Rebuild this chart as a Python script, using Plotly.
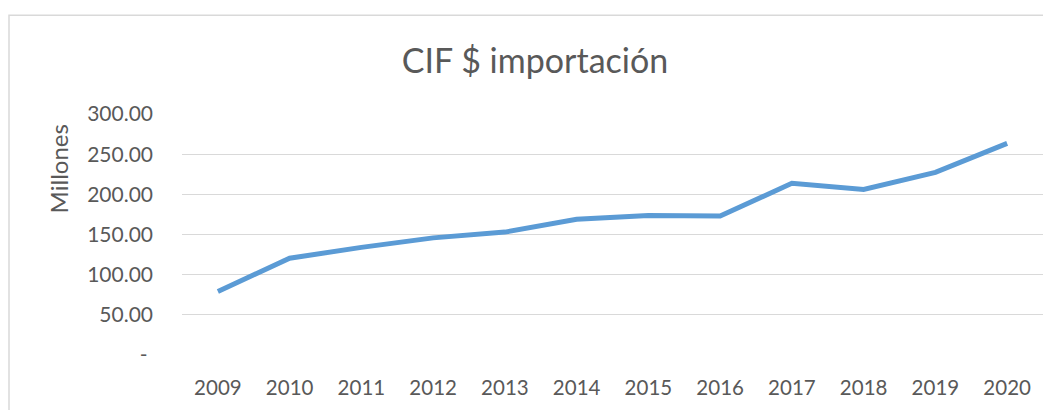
import plotly.graph_objects as go

years = ["2009", "2010", "2011", "2012", "2013", "2014", "2015", "2016", "2017", "2018", "2019", "2020"]
cif_millones = [79.0, 120.5, 134.0, 145.8, 153.0, 169.0, 173.8, 173.0, 213.8, 206.0, 227.4, 263.4]
y_tickvals = [0, 50, 100, 150, 200, 250, 300]
y_ticktext = [" - ", "50.00", "100.00", "150.00", "200.00", "250.00", "300.00"]

OFF = 8  # page body margin offset
W, H = 1051 - OFF, 410 - OFF
L, R, T, B = 182 - OFF, 16 - OFF, 113.5 - OFF, 55
pw, ph = W - L - R, H - T - B

font_family = "Lato, 'Open Sans', sans-serif"
txt = "#595959"

fig = go.Figure()
fig.add_trace(go.Scatter(
    x=years, y=cif_millones, mode="lines",
    line=dict(color="#5B9BD5", width=5),
    hoverinfo="x+y", showlegend=False,
))

fig.update_layout(
    width=W, height=H,
    margin=dict(l=L, r=R, t=T, b=B, autoexpand=False),
    paper_bgcolor="white", plot_bgcolor="white",
    font=dict(family=font_family, color=txt),
    title=dict(text="CIF $ importación", x=(535 - OFF) / W, xanchor="center",
               y=1 - (61 - OFF) / H, yanchor="middle",
               font=dict(size=34, color=txt, family=font_family)),
    xaxis=dict(type="category", range=[-0.5, 11.5], showgrid=False,
               showline=False, zeroline=False, ticks="",
               tickfont=dict(size=20.5, color=txt), ticklabelstandoff=18),
    yaxis=dict(range=[0, 300], tickvals=y_tickvals, ticktext=y_ticktext,
               showgrid=True, gridcolor="#D9D9D9", gridwidth=1.3,
               zeroline=False, showline=False, ticks="",
               tickfont=dict(size=21, color=txt), ticklabelstandoff=28),
)

fig.add_annotation(text="Millones", textangle=-90, xref="paper", yref="paper",
                   x=(58 - 182) / pw, y=(355 - 168) / ph, xanchor="center", yanchor="middle",
                   showarrow=False, font=dict(size=24, color=txt, family=font_family))

# chart border (light grey) extending off the right/bottom of the view
fig.add_shape(type="rect", xref="paper", yref="paper",
              x0=(OFF + 1 - 182) / pw, x1=(1051 + 20 - 182) / pw,
              y0=(355 - (410 + 20)) / ph, y1=(355 - 14.5) / ph,
              line=dict(color="#D9D9D9", width=1.5), fillcolor="rgba(0,0,0,0)", layer="below")

fig.write_html("out.html")
